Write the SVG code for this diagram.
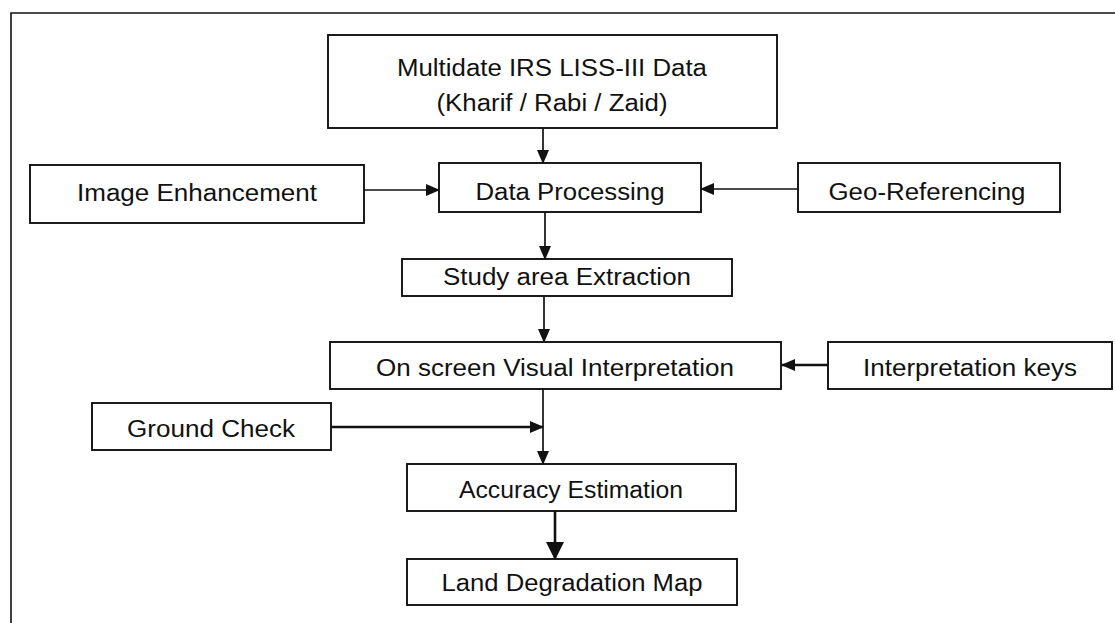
<svg xmlns="http://www.w3.org/2000/svg" width="1115" height="623" viewBox="0 0 1115 623">
<style>
.box{fill:#fff;stroke:#111;stroke-width:1.9}
.t{font-family:"Liberation Sans",Arial,sans-serif;font-size:23px;fill:#111;text-anchor:middle}
.c{stroke:#111;stroke-width:1.7;fill:none}
.ck{stroke:#111;stroke-width:2.6;fill:none}
.frame{stroke:#111;stroke-width:1.6;fill:none}
</style>
<defs>
<marker id="ah" markerWidth="14" markerHeight="12" refX="13" refY="6" orient="auto" markerUnits="userSpaceOnUse">
<path d="M0,0 L14,6 L0,12 Z" fill="#111"/>
</marker>
<marker id="ahb" markerWidth="18" markerHeight="18" refX="17" refY="9" orient="auto" markerUnits="userSpaceOnUse">
<path d="M0,0 L18,9 L0,18 Z" fill="#111"/>
</marker>
</defs>
<rect width="1115" height="623" fill="#fff"/>
<path class="frame" d="M11,623 L11,13 L1115,13"/>

<g id="connectors">
<line class="c" x1="543" y1="128" x2="543" y2="163" marker-end="url(#ah)"/>
<line class="c" x1="364" y1="190" x2="439" y2="190" marker-end="url(#ah)"/>
<line class="c" x1="798" y1="189" x2="701" y2="189" marker-end="url(#ah)"/>
<line class="c" x1="545" y1="212" x2="545" y2="259" marker-end="url(#ah)"/>
<line class="c" x1="544" y1="296" x2="544" y2="342" marker-end="url(#ah)"/>
<line class="ck" x1="828" y1="365" x2="782" y2="365" marker-end="url(#ah)"/>
<line class="ck" x1="331" y1="427" x2="543" y2="427" marker-end="url(#ah)"/>
<line class="c" x1="543" y1="389" x2="543" y2="464" marker-end="url(#ah)"/>
<line class="ck" x1="555" y1="511" x2="555" y2="559" marker-end="url(#ahb)"/>
</g>

<g id="n-multidate">
<rect class="box" x="328" y="35" width="449" height="93"/>
<text class="t" x="552" y="76" textLength="310" lengthAdjust="spacingAndGlyphs">Multidate IRS LISS-III Data</text>
<text class="t" x="552" y="111" textLength="231" lengthAdjust="spacingAndGlyphs">(Kharif / Rabi / Zaid)</text>
</g>
<g id="n-image-enhancement">
<rect class="box" x="30" y="165" width="334" height="58"/>
<text class="t" x="197" y="201" textLength="240" lengthAdjust="spacingAndGlyphs">Image Enhancement</text>
</g>
<g id="n-data-processing">
<rect class="box" x="439" y="163" width="262" height="49"/>
<text class="t" x="570" y="200" textLength="189" lengthAdjust="spacingAndGlyphs">Data Processing</text>
</g>
<g id="n-geo-referencing">
<rect class="box" x="798" y="163" width="262" height="49"/>
<text class="t" x="927" y="200" textLength="197" lengthAdjust="spacingAndGlyphs">Geo-Referencing</text>
</g>
<g id="n-study-area">
<rect class="box" x="402" y="259" width="330" height="37"/>
<text class="t" x="567" y="285" textLength="248" lengthAdjust="spacingAndGlyphs">Study area Extraction</text>
</g>
<g id="n-visual-interpretation">
<rect class="box" x="330" y="342" width="451" height="47"/>
<text class="t" x="555" y="376" textLength="358" lengthAdjust="spacingAndGlyphs">On screen Visual Interpretation</text>
</g>
<g id="n-interpretation-keys">
<rect class="box" x="828" y="342" width="284" height="47"/>
<text class="t" x="970" y="376" textLength="214" lengthAdjust="spacingAndGlyphs">Interpretation keys</text>
</g>
<g id="n-ground-check">
<rect class="box" x="92" y="403" width="239" height="47"/>
<text class="t" x="211" y="437" textLength="168" lengthAdjust="spacingAndGlyphs">Ground Check</text>
</g>
<g id="n-accuracy">
<rect class="box" x="407" y="464" width="329" height="47"/>
<text class="t" x="571" y="498" textLength="224" lengthAdjust="spacingAndGlyphs">Accuracy Estimation</text>
</g>
<g id="n-land-degradation">
<rect class="box" x="407" y="559" width="330" height="46"/>
<text class="t" x="572" y="591" textLength="261" lengthAdjust="spacingAndGlyphs">Land Degradation Map</text>
</g>
</svg>
